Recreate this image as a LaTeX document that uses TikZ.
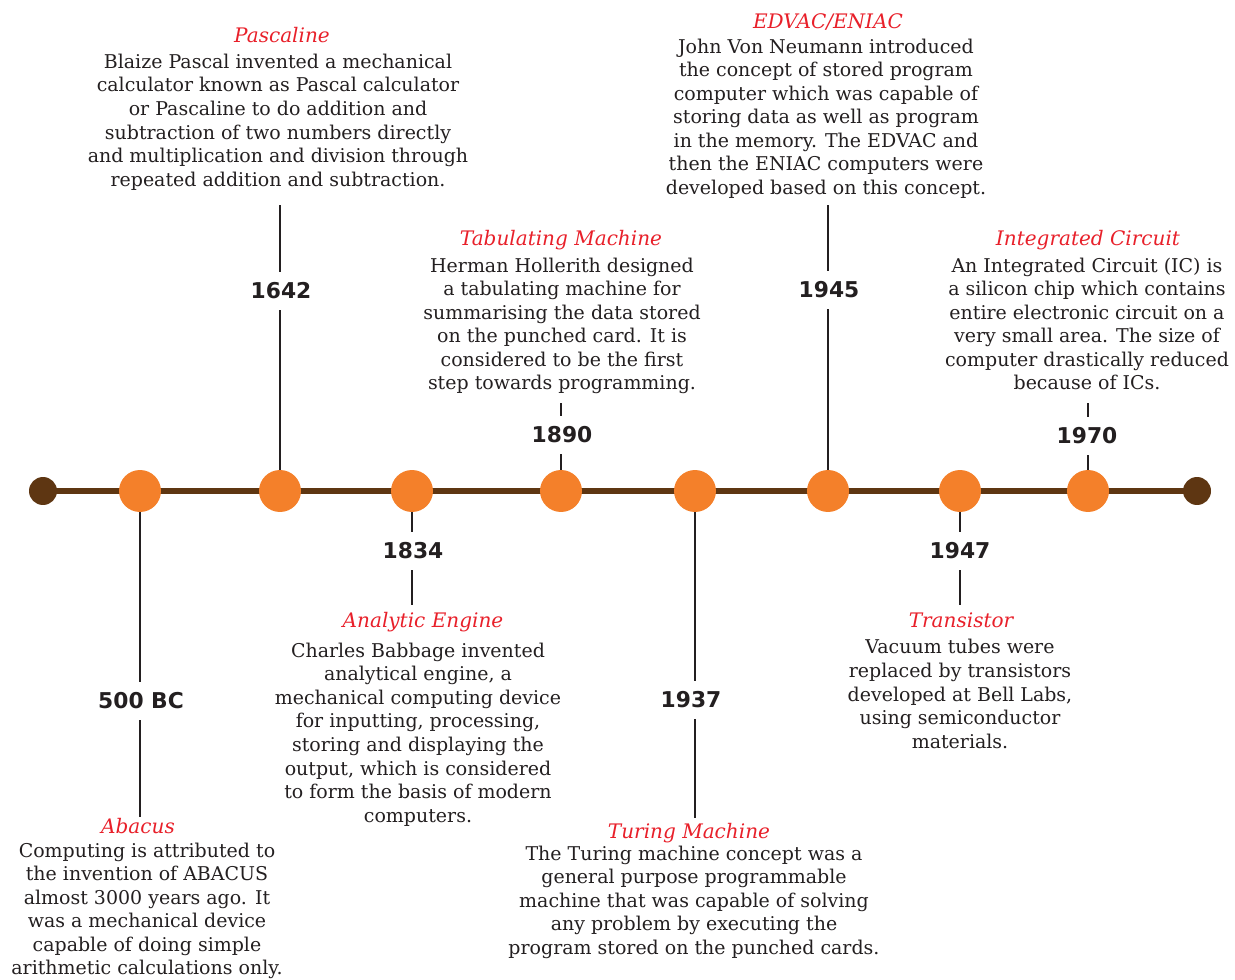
\documentclass[tikz,border=0pt]{standalone}
\usepackage{fontspec}
\setmainfont{DejaVu Serif}
\newfontfamily\yearfont{DejaVu Sans}
\usetikzlibrary{positioning}

\definecolor{dotorange}{HTML}{F4802A}
\definecolor{linebrown}{HTML}{5E3612}
\definecolor{titlered}{HTML}{E8202A}
\definecolor{textgray}{HTML}{231F20}

\begin{document}
\begin{tikzpicture}[x=0.02cm,y=-0.02cm,
    event/.style={circle,fill=dotorange,minimum size=0.84cm,inner sep=0pt},
    enddot/.style={circle,fill=linebrown,minimum size=0.56cm,inner sep=0pt},
    timeline/.style={linebrown,line width=3.4pt},
    stem/.style={textgray,line width=1.1pt},
    year/.style={fill=white,text=textgray,font=\yearfont\bfseries\fontsize{12.4}{14}\selectfont,inner xsep=1pt,inner ysep=6pt},
    heading/.style={text=titlered,font=\fontsize{11.4}{13}\selectfont\itshape,inner sep=0pt,text height=0.75em,text depth=0.2em},
    desc/.style={text=textgray,align=center,font=\fontsize{10.8}{13.4}\selectfont,inner sep=0pt}]
    \useasboundingbox (0,0) rectangle (1235,980);

    % the time line
    \coordinate (first) at (43,491);
    \coordinate (last) at (1197,491);
    \draw[timeline] (first) -- (last);
    \node[enddot] (firstdot) at (first) {};
    \node[enddot] (lastdot) at (last) {};

    \node[event] (e500) at (140,491) {};
    \node[event] (e1642) at (280,491) {};
    \node[event] (e1834) at (412,491) {};
    \node[event] (e1890) at (561,491) {};
    \node[event] (e1937) at (695,491) {};
    \node[event] (e1945) at (828,491) {};
    \node[event] (e1947) at (960,491) {};
    \node[event] (e1970) at (1088,491) {};

    % stems
    \coordinate (s500) at (140,817);
    \coordinate (s1642) at (280,205);
    \coordinate (s1834) at (412,605);
    \coordinate (s1890) at (561,403);
    \coordinate (s1937) at (695,818);
    \coordinate (s1945) at (828,205);
    \coordinate (s1947) at (960,605);
    \coordinate (s1970) at (1088,403);
    \foreach \y in {500,1642,1834,1890,1937,1945,1947,1970}
        \draw[stem] (e\y) -- (s\y);

    \node[year] (y500) at (141,701) {500 BC};
    \node[year] (y1642) at (281,291) {1642};
    \node[year] (y1834) at (413,551) {1834};
    \node[year] (y1890) at (562,435) {1890};
    \node[year] (y1937) at (691,700) {1937};
    \node[year] (y1945) at (829,290) {1945};
    \node[year] (y1947) at (960,551) {1947};
    \node[year] (y1970) at (1087,436) {1970};

    % above the line
    \node[heading] (pascaltitle) at (282,38) {Pascaline};
    \node[desc] (pascal) at (278,122) {Blaize Pascal invented a mechanical\\calculator known as Pascal calculator\\or Pascaline to do addition and\\subtraction of two numbers directly\\and multiplication and division through\\repeated addition and subtraction.};

    \node[heading] (edvactitle) at (828,24) {EDVAC/ENIAC};
    \node[desc] (edvac) at (826,118.5) {John Von Neumann introduced\\the concept of stored program\\computer which was capable of\\storing data as well as program\\in the memory. The EDVAC and\\then the ENIAC computers were\\developed based on this concept.};

    \node[heading] (tabtitle) at (561,241) {Tabulating Machine};
    \node[desc] (tab) at (562,326) {Herman Hollerith designed\\a tabulating machine for\\summarising the data stored\\on the punched card. It is\\considered to be the first\\step towards programming.};

    \node[heading] (ictitle) at (1088,241) {Integrated Circuit};
    \node[desc] (ic) at (1087,324) {An Integrated Circuit (IC) is\\a silicon chip which contains\\entire electronic circuit on a\\very small area. The size of\\computer drastically reduced\\because of ICs.};

    % below the line
    \node[heading] (abacustitle) at (138,829) {Abacus};
    \node[desc] (abacus) at (147,911) {Computing is attributed to\\the invention of ABACUS\\almost 3000 years ago. It\\was a mechanical device\\capable of doing simple\\arithmetic calculations only.};

    \node[heading] (enginetitle) at (423,623) {Analytic Engine};
    \node[desc] (engine) at (418,734.5) {Charles Babbage invented\\analytical engine, a\\mechanical computing device\\for inputting, processing,\\storing and displaying the\\output, which is considered\\to form the basis of modern\\computers.};

    \node[heading] (turingtitle) at (689,834) {Turing Machine};
    \node[desc] (turing) at (694,902) {The Turing machine concept was a\\general purpose programmable\\machine that was capable of solving\\any problem by executing the\\program stored on the punched cards.};

    \node[heading] (transtitle) at (961,623) {Transistor};
    \node[desc] (trans) at (960,694) {Vacuum tubes were\\replaced by transistors\\developed at Bell Labs,\\using semiconductor\\materials.};
\end{tikzpicture}
\end{document}
